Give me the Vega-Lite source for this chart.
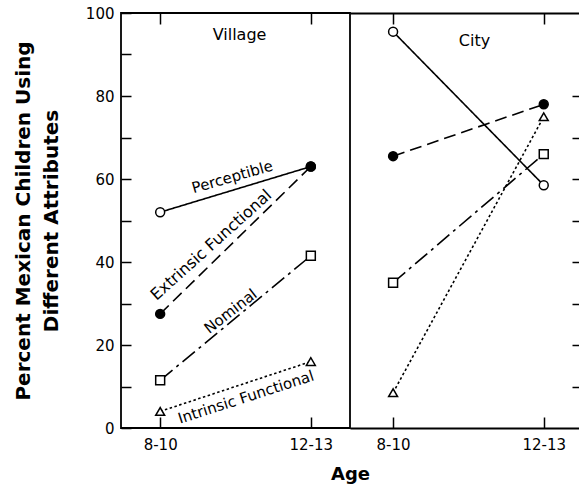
{
  "$schema": "https://vega.github.io/schema/vega-lite/v6.json",
  "padding": {"left": 12, "top": 5, "right": 0, "bottom": 0},
  "background": "white",
  "spacing": 0,
  "bounds": "flush",
  "config": {
    "font": "DejaVu Sans",
    "view": {"stroke": null},
    "axis": {"domainColor": "black", "tickColor": "black", "labelColor": "black", "titleColor": "black", "grid": false, "domainWidth": 1.8, "tickWidth": 1.5, "labelFontSize": 15, "labelFont": "DejaVu Sans"}
  },
  "data": {"values": [
    {"setting": "Village", "series": "Perceptible", "age": "8-10", "pct": 52},
    {"setting": "Village", "series": "Perceptible", "age": "12-13", "pct": 63},
    {"setting": "Village", "series": "Extrinsic Functional", "age": "8-10", "pct": 27.5},
    {"setting": "Village", "series": "Extrinsic Functional", "age": "12-13", "pct": 63},
    {"setting": "Village", "series": "Nominal", "age": "8-10", "pct": 11.5},
    {"setting": "Village", "series": "Nominal", "age": "12-13", "pct": 41.5},
    {"setting": "Village", "series": "Intrinsic Functional", "age": "8-10", "pct": 4},
    {"setting": "Village", "series": "Intrinsic Functional", "age": "12-13", "pct": 16},
    {"setting": "City", "series": "Perceptible", "age": "8-10", "pct": 95.5},
    {"setting": "City", "series": "Perceptible", "age": "12-13", "pct": 58.5},
    {"setting": "City", "series": "Extrinsic Functional", "age": "8-10", "pct": 65.5},
    {"setting": "City", "series": "Extrinsic Functional", "age": "12-13", "pct": 78},
    {"setting": "City", "series": "Nominal", "age": "8-10", "pct": 35},
    {"setting": "City", "series": "Nominal", "age": "12-13", "pct": 66},
    {"setting": "City", "series": "Intrinsic Functional", "age": "8-10", "pct": 8.5},
    {"setting": "City", "series": "Intrinsic Functional", "age": "12-13", "pct": 75}
  ]},
  "hconcat": [
    {
      "width": 229, "height": 415,
      "view": {"stroke": "black", "strokeWidth": 1.8},
      "title": {"text": "Village", "offset": -37, "dx": 4, "fontSize": 16, "fontWeight": "normal", "anchor": "middle", "frame": "group", "font": "DejaVu Sans"},
      "transform": [{"filter": "datum.setting === 'Village'"}],
      "resolve": {"axis": {"x": "independent"}},
      "layer": [
        {
          "encoding": {
            "x": {"field": "age", "type": "ordinal", "scale": {"type": "point", "domain": ["8-10", "12-13"], "padding": 0.26, "align": 0.5},
              "axis": {"orient": "bottom", "title": "Age", "titleX": 229, "titleY": 51, "titleAlign": "center", "titleBaseline": "alphabetic", "titleFontSize": 18, "titleFontWeight": "bold", "labelAngle": 0, "tickSize": -11, "labelPadding": 20, "domain": false}},
            "y": {"field": "pct", "type": "quantitative", "scale": {"domain": [0, 100], "nice": false},
              "axis": {"orient": "left", "values": [0, 10, 20, 30, 40, 50, 60, 70, 80, 90, 100], "labelExpr": "datum.value % 20 === 0 ? datum.label : ''", "tickSize": -10, "labelPadding": 17, "domain": false,
                "title": ["Percent Mexican Children Using", "Different Attributes"], "titleFontSize": 20, "titleFontWeight": "bold", "titlePadding": 24, "titleLineHeight": 28}}
          },
          "layer": [
            {"mark": {"type": "line", "color": "black", "strokeWidth": 1.6},
              "encoding": {"strokeDash": {"field": "series", "type": "nominal", "scale": {"domain": ["Perceptible", "Extrinsic Functional", "Nominal", "Intrinsic Functional"], "range": [[1, 0], [12, 6], [16, 5, 3, 5], [2.5, 2.5]]}, "legend": null}}},
            {"mark": {"type": "point", "filled": true, "stroke": "black", "strokeWidth": 1.5, "opacity": 1},
              "encoding": {
                "shape": {"field": "series", "type": "nominal", "scale": {"domain": ["Perceptible", "Extrinsic Functional", "Nominal", "Intrinsic Functional"], "range": ["circle", "circle", "square", "triangle-up"]}, "legend": null},
                "fill": {"field": "series", "type": "nominal", "scale": {"domain": ["Perceptible", "Extrinsic Functional", "Nominal", "Intrinsic Functional"], "range": ["white", "black", "white", "white"]}, "legend": null},
                "size": {"field": "series", "type": "nominal", "scale": {"domain": ["Perceptible", "Extrinsic Functional", "Nominal", "Intrinsic Functional"], "range": [80, 80, 120, 110]}, "legend": null}
              }},
            {"transform": [{"filter": "datum.series === 'Perceptible' && datum.age === '8-10'"}],
              "mark": {"type": "text", "angle": -16, "dx": 79, "dy": -14, "align": "center", "baseline": "middle", "fontSize": 15, "color": "black"},
              "encoding": {"text": {"field": "series"}}},
            {"transform": [{"filter": "datum.series === 'Extrinsic Functional' && datum.age === '8-10'"}],
              "mark": {"type": "text", "angle": -42, "dx": 84, "dy": -17, "align": "center", "baseline": "middle", "fontSize": 16, "color": "black"},
              "encoding": {"text": {"field": "series"}}},
            {"transform": [{"filter": "datum.series === 'Nominal' && datum.age === '8-10'"}],
              "mark": {"type": "text", "angle": -38, "dx": 98, "dy": -11, "align": "center", "baseline": "middle", "fontSize": 15, "color": "black"},
              "encoding": {"text": {"field": "series"}}},
            {"transform": [{"filter": "datum.series === 'Intrinsic Functional' && datum.age === '8-10'"}],
              "mark": {"type": "text", "angle": -18, "dx": 86, "dy": 13, "align": "center", "baseline": "middle", "fontSize": 15, "color": "black"},
              "encoding": {"text": {"field": "series"}}}
          ]
        },
        {
          "mark": {"type": "point", "opacity": 0},
          "encoding": {
            "x": {"field": "age", "type": "ordinal", "scale": {"type": "point", "domain": ["8-10", "12-13"], "padding": 0.26, "align": 0.5},
              "axis": {"orient": "top", "title": null, "labels": false, "tickSize": -11, "domain": false}}
          }
        }
      ]
    },
    {
      "width": 229, "height": 415,
      "title": {"text": "City", "offset": -37, "dx": 10, "fontSize": 16, "fontWeight": "normal", "anchor": "middle", "frame": "group", "font": "DejaVu Sans"},
      "transform": [{"filter": "datum.setting === 'City'"}],
      "resolve": {"axis": {"x": "independent"}},
      "layer": [
        {
          "encoding": {
            "x": {"field": "age", "type": "ordinal", "scale": {"type": "point", "domain": ["8-10", "12-13"], "padding": 0.26, "align": 0.55},
              "axis": {"orient": "bottom", "title": null, "labelAngle": 0, "tickSize": -11, "labelPadding": 20, "domain": true}},
            "y": {"field": "pct", "type": "quantitative", "scale": {"domain": [0, 100], "nice": false},
              "axis": {"orient": "right", "values": [10, 20, 30, 40, 50, 60, 70, 80], "labels": false, "tickSize": -7, "domain": false, "title": null}}
          },
          "layer": [
            {"mark": {"type": "line", "color": "black", "strokeWidth": 1.6},
              "encoding": {"strokeDash": {"field": "series", "type": "nominal", "scale": {"domain": ["Perceptible", "Extrinsic Functional", "Nominal", "Intrinsic Functional"], "range": [[1, 0], [14, 7], [16, 5, 3, 5], [2.5, 2.5]]}, "legend": null}}},
            {"mark": {"type": "point", "filled": true, "stroke": "black", "strokeWidth": 1.5, "opacity": 1},
              "encoding": {
                "shape": {"field": "series", "type": "nominal", "scale": {"domain": ["Perceptible", "Extrinsic Functional", "Nominal", "Intrinsic Functional"], "range": ["circle", "circle", "square", "triangle-up"]}, "legend": null},
                "fill": {"field": "series", "type": "nominal", "scale": {"domain": ["Perceptible", "Extrinsic Functional", "Nominal", "Intrinsic Functional"], "range": ["white", "black", "white", "white"]}, "legend": null},
                "size": {"field": "series", "type": "nominal", "scale": {"domain": ["Perceptible", "Extrinsic Functional", "Nominal", "Intrinsic Functional"], "range": [80, 80, 120, 110]}, "legend": null}
              }}
          ]
        },
        {
          "mark": {"type": "point", "opacity": 0},
          "encoding": {
            "x": {"field": "age", "type": "ordinal", "scale": {"type": "point", "domain": ["8-10", "12-13"], "padding": 0.26, "align": 0.55},
              "axis": {"orient": "top", "title": null, "labels": false, "tickSize": -11, "domain": true}}
          }
        }
      ]
    }
  ]
}
